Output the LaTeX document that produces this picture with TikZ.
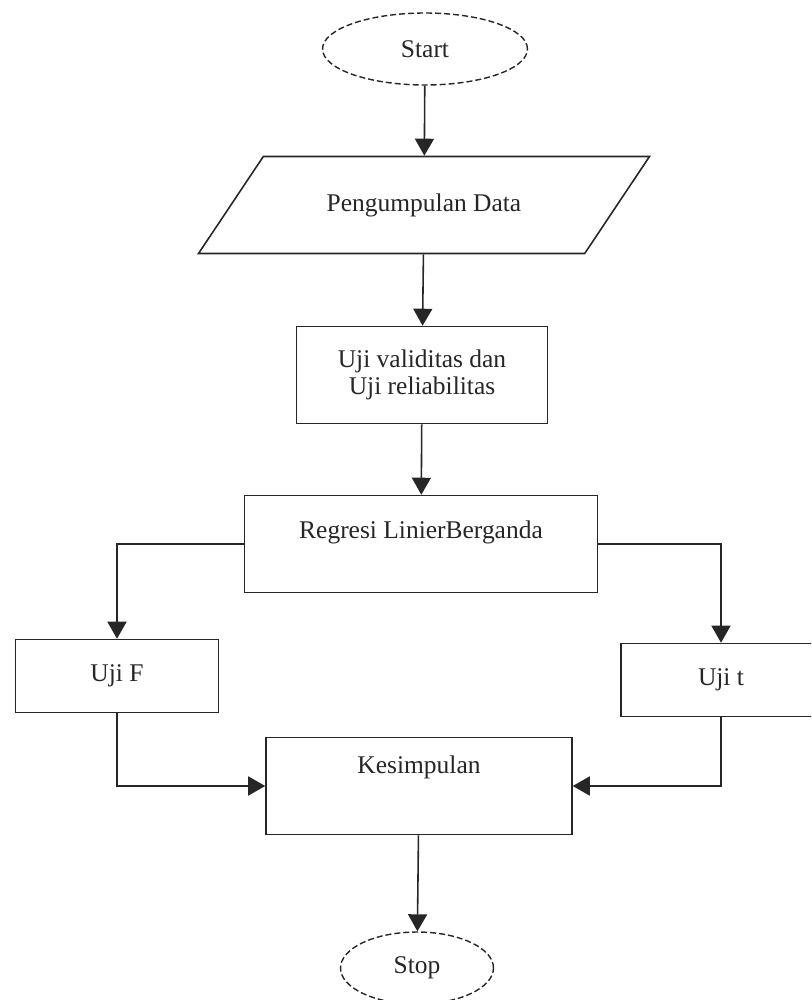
\documentclass[tikz,border=0pt]{standalone}
\usepackage{tikz}
\usepackage{fontspec}
\setmainfont{Liberation Serif}
\definecolor{linecolor}{rgb}{0.15, 0.15, 0.15}
\usetikzlibrary{arrows.meta,shapes.geometric,positioning}
\tikzset{
	terminal/.style={
		ellipse,
		draw=linecolor,
		dash pattern=on 0.12cm off 0.06cm,
		line width=0.8pt,
		fill=white,
		minimum height=1.44cm
	},
	io/.style={
		trapezium,
		trapezium left angle=40,
		trapezium right angle=140,
		trapezium stretches=true,
		draw=linecolor,
		line width=0.9pt,
		fill=white,
		minimum width=9.04cm,
		minimum height=1.94cm
	},
	block/.style={
		rectangle,
		draw=linecolor,
		line width=0.9pt,
		fill=white,
		text centered
	},
	arrow/.style={
		draw=linecolor,
		line width=0.9pt,
		-{Triangle[width=0.38cm,length=0.34cm]}
	},
}

\begin{document}
\begin{tikzpicture}[x=0.02cm, y=-0.02cm, font=\fontsize{14.5}{15.5}\selectfont, text=linecolor]
		\useasboundingbox (0,0) rectangle (811,1000);
		\clip (0,0) rectangle (811,1000);
		\node (start) [terminal, minimum width=4.1cm] at (425,49) {Start};
		\node (data) [io] at (424,205) {Pengumpulan Data};
		\node (valid) [block, minimum width=5.02cm, minimum height=1.94cm, align=center] at (422,375) {Uji validitas dan\\Uji reliabilitas};
		\node (regresi) [block, minimum width=7.06cm, minimum height=1.94cm, text depth=0.57cm] at (421,544) {Regresi LinierBerganda};
		\node (ujiF) [block, minimum width=4.06cm, minimum height=1.46cm] at (117,676) {Uji F};
		\node (ujit) [block, minimum width=4cm, minimum height=1.46cm] at (721,680) {Uji t};
		\node (kesimpulan) [block, minimum width=6.12cm, minimum height=1.94cm, text depth=0.85cm] at (419,786) {Kesimpulan};
		\node (stop) [terminal, minimum width=3.06cm] at (417,968) {Stop};
		
		\draw [arrow] (start) -- (data);
		\draw [arrow] (data) -- (valid);
		\draw [arrow] (valid) -- (regresi);
		\draw [arrow] (regresi.west) -| (ujiF.north);
		\draw [arrow] (regresi.east) -| (ujit.north);
		\draw [arrow] (ujiF.south) |- (kesimpulan.west);
		\draw [arrow] (ujit.south) |- (kesimpulan.east);
		\draw [arrow] (kesimpulan) -- (stop);
		
		\end{tikzpicture}
\end{document}
